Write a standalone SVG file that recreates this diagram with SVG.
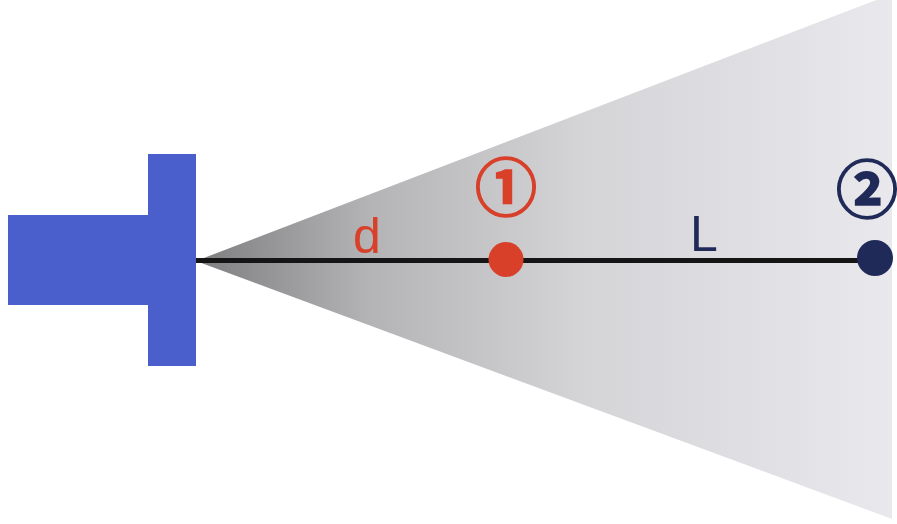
<svg xmlns="http://www.w3.org/2000/svg" width="897" height="524" viewBox="0 0 897 524">
  <style>
    .lbl { font-family: "Liberation Sans", Arial, sans-serif; font-size: 50px; }
    .circ { font-family: "Noto Sans CJK JP", "DejaVu Sans", sans-serif; font-size: 62px; font-weight: bold; stroke-width: 1.6px; }
  </style>
  <defs>
    <linearGradient id="cone" gradientUnits="userSpaceOnUse" x1="196" y1="0" x2="892" y2="0">
      <stop offset="0" stop-color="#7e7e80"/>
      <stop offset="0.25" stop-color="#b4b4b6"/>
      <stop offset="0.55" stop-color="#d4d3d6"/>
      <stop offset="1" stop-color="#e9e8ec"/>
    </linearGradient>
  </defs>
  <rect width="897" height="524" fill="#ffffff"/>
  <g id="cone-beam">
    <polygon points="196,261 892,-6 892,519" fill="url(#cone)"/>
  </g>
  <g id="source">
    <rect x="148" y="154" width="48" height="212" fill="#4a5fcb"/>
    <rect x="8" y="215" width="141" height="90" fill="#4a5fcb"/>
  </g>
  <g id="connectors">
    <line x1="196" y1="260.5" x2="874" y2="260.5" stroke="#151515" stroke-width="5"/>
  </g>
  <g id="label-d">
    <text class="lbl" x="367" y="253" text-anchor="middle" fill="#d8402a">d</text>
  </g>
  <g id="label-L">
    <text class="lbl" x="704" y="251" text-anchor="middle" fill="#1f2a58">L</text>
  </g>
  <g id="point1">
    <circle cx="506" cy="259.5" r="17.5" fill="#d8402a"/>
    <text class="circ" x="506" y="211" text-anchor="middle" fill="#d8402a" stroke="#d8402a">①</text>
  </g>
  <g id="point2">
    <circle cx="875" cy="258" r="18" fill="#1f2a58"/>
    <text class="circ" x="867" y="213" text-anchor="middle" fill="#1f2a58" stroke="#1f2a58">②</text>
  </g>
</svg>
